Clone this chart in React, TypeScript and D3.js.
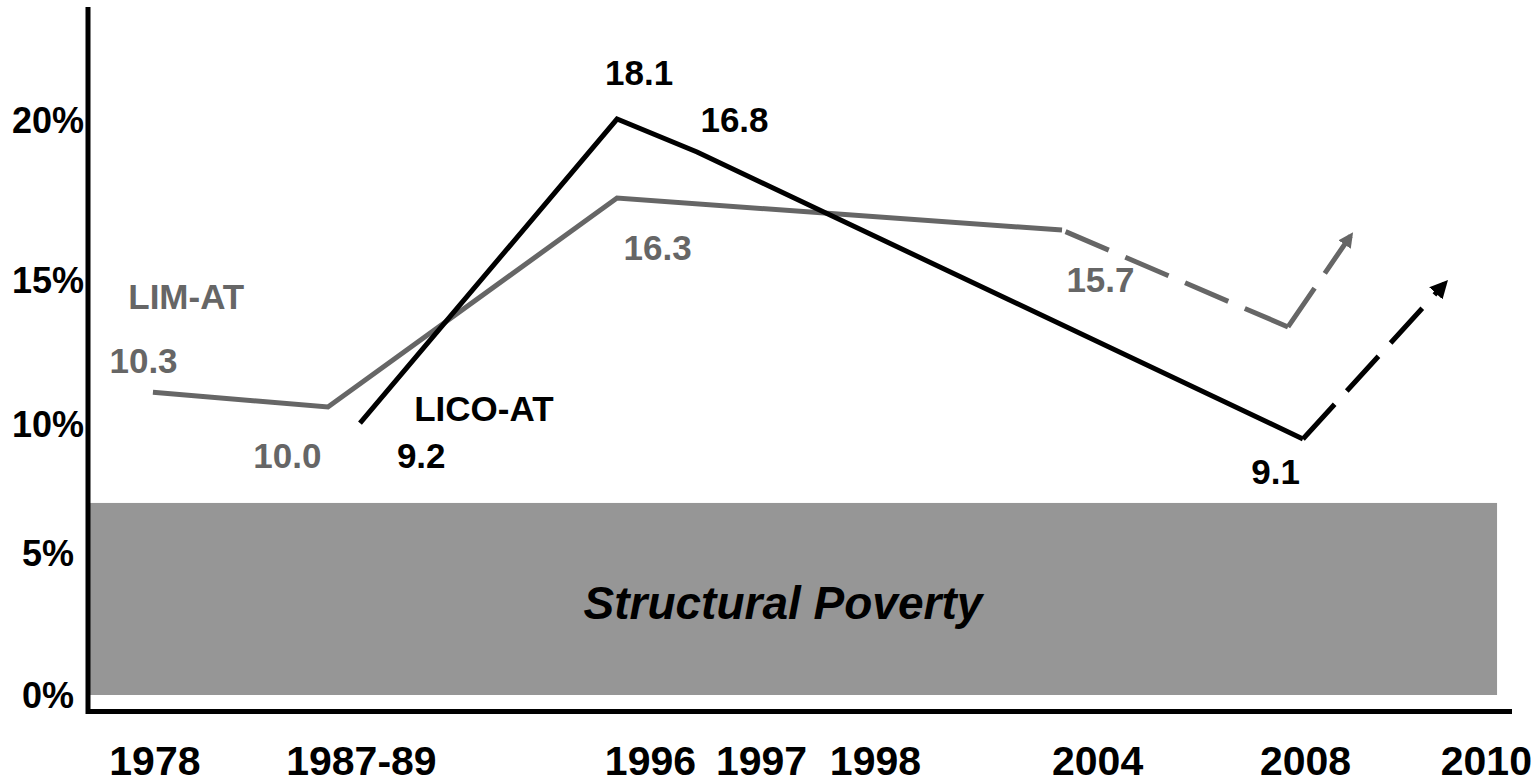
import React, { useEffect, useRef } from 'react';
import { select, scaleLinear, line } from 'd3';

// y axis (values in %)
const yTicks = [0, 5, 10, 15, 20];
const yTickLabels = ['0%', '5%', '10%', '15%', '20%'];

// x axis: positions along the time axis, 0..100
const categories = ['1978', '1987-89', '1996', '1997', '1998', '2004', '2008', '2010'];
const categoryPos = [4.7, 19.2, 39.5, 47.3, 55.3, 70.9, 85.5, 98.2];

// LIM-AT (grey)
const limPos = [4.56, 16.85, 37.15, 68.4];
const limValues = [11.1, 10.59, 17.56, 16.56];
const limTrendPos = [68.4, 84.27, 88.66];
const limTrendValues = [16.56, 13.37, 16.38];
const limLabels = ['LIM-AT', '10.3', '10.0', '16.3', '15.7'];
const limLabelPos = [6.9, 3.9, 14.0, 40.0, 71.1];
const limLabelValues = [13.99, 11.77, 8.29, 15.63, 14.58];

// LICO-AT (black)
const licoPos = [19.1, 37.15, 42.77, 85.32];
const licoValues = [10.03, 20.03, 19.0, 9.42];
const licoTrendPos = [85.32, 95.25];
const licoTrendValues = [9.42, 14.86];
const licoLabels = ['LICO-AT', '9.2', '18.1', '16.8', '9.1'];
const licoLabelPos = [27.8, 23.4, 38.7, 45.4, 83.4];
const licoLabelValues = [10.1, 8.29, 21.09, 19.63, 7.67];

// structural poverty band
const bandRange = [0, 6.94];
const bandEnd = 98.95;
const bandText = 'Structural Poverty';
const bandTextPos = 48.8;

const W = 1539;
const H = 783;
const plot = { left: 88, right: 1512, top: 7, axisY: 711.5 };
const tickY = [695, 553, 424, 280, 120];
const GREY = '#666666';
const FONT = '"Liberation Sans", Arial, sans-serif';

export default function App() {
  const svgRef = useRef<SVGSVGElement>(null);

  useEffect(() => {
    if (!svgRef.current) return;
    const svg = select(svgRef.current);
    svg.selectAll('*').remove();

    const x = scaleLinear().domain([0, 100]).range([plot.left, plot.right]);
    const y = scaleLinear().domain(yTicks).range(tickY);

    const defs = svg.append('defs');
    const marker = (id: string, color: string, size: number) => {
      defs
        .append('marker')
        .attr('id', id)
        .attr('viewBox', '0 0 10 10')
        .attr('refX', 7)
        .attr('refY', 5)
        .attr('markerUnits', 'userSpaceOnUse')
        .attr('markerWidth', size)
        .attr('markerHeight', size)
        .attr('orient', 'auto')
        .append('path')
        .attr('d', 'M0,0 L10,5 L0,10 Z')
        .attr('fill', color);
    };
    marker('arrow-black', '#000', 18);
    marker('arrow-grey', GREY, 15);

    // band
    svg
      .append('rect')
      .attr('x', x(0))
      .attr('width', x(bandEnd) - x(0))
      .attr('y', y(bandRange[1]))
      .attr('height', y(bandRange[0]) - y(bandRange[1]))
      .attr('fill', '#969696');

    svg
      .append('text')
      .attr('x', x(bandTextPos))
      .attr('y', y((bandRange[0] + bandRange[1]) / 2) + 23)
      .attr('text-anchor', 'middle')
      .attr('font-family', FONT)
      .attr('font-weight', 'bold')
      .attr('font-style', 'italic')
      .attr('font-size', 46)
      .attr('fill', '#000')
      .text(bandText);

    const pathGen = line<[number, number]>()
      .x(d => x(d[0]))
      .y(d => y(d[1]));
    const zip = (p: number[], v: number[]) => p.map((d, i) => [d, v[i]] as [number, number]);

    const limTrend = zip(limTrendPos, limTrendValues);
    const series = [
      { pts: zip(limPos, limValues), color: GREY, dash: null, marker: null },
      // dashes laid out from the bend so both legs start with a dash there
      { pts: limTrend.slice(0, 2).reverse(), color: GREY, dash: '47 18', marker: null },
      { pts: limTrend.slice(1), color: GREY, dash: '47 18', marker: 'arrow-grey' },
      { pts: zip(licoPos, licoValues), color: '#000', dash: null, marker: null },
      { pts: zip(licoTrendPos, licoTrendValues), color: '#000', dash: '47 18', marker: 'arrow-black' },
    ];

    svg
      .selectAll('.series')
      .data(series)
      .join('path')
      .attr('class', 'series')
      .attr('d', d => pathGen(d.pts))
      .attr('fill', 'none')
      .attr('stroke', d => d.color)
      .attr('stroke-width', 5)
      .attr('stroke-linejoin', 'miter')
      .attr('stroke-dasharray', d => d.dash)
      .attr('marker-end', d => (d.marker ? `url(#${d.marker})` : null));

    // axes
    svg
      .append('path')
      .attr('d', `M${plot.left},${plot.top} V${plot.axisY} H${plot.right}`)
      .attr('fill', 'none')
      .attr('stroke', '#000')
      .attr('stroke-width', 5);

    svg
      .selectAll('.ytick')
      .data(yTicks)
      .join('text')
      .attr('class', 'ytick')
      .attr('x', 48)
      .attr('y', d => y(d) + 13)
      .attr('text-anchor', 'middle')
      .attr('font-family', FONT)
      .attr('font-weight', 'bold')
      .attr('font-size', 36)
      .attr('fill', '#000')
      .text((d, i) => yTickLabels[i]);

    svg
      .selectAll('.xtick')
      .data(categories)
      .join('text')
      .attr('class', 'xtick')
      .attr('x', (d, i) => x(categoryPos[i]))
      .attr('y', plot.axisY + 63)
      .attr('text-anchor', 'middle')
      .attr('font-family', FONT)
      .attr('font-weight', 'bold')
      .attr('font-size', 41)
      .attr('fill', '#000')
      .text(d => d);

    const labels = [
      ...limLabels.map((t, i) => ({ t, p: limLabelPos[i], v: limLabelValues[i], c: GREY })),
      ...licoLabels.map((t, i) => ({ t, p: licoLabelPos[i], v: licoLabelValues[i], c: '#000' })),
    ];
    svg
      .selectAll('.vlabel')
      .data(labels)
      .join('text')
      .attr('class', 'vlabel')
      .attr('x', d => x(d.p))
      .attr('y', d => y(d.v))
      .attr('text-anchor', 'middle')
      .attr('font-family', FONT)
      .attr('font-weight', 'bold')
      .attr('font-size', 35)
      .attr('fill', d => d.c)
      .text(d => d.t);
  }, []);

  return (
    <svg
      ref={svgRef}
      width={W}
      height={H}
      style={{ position: 'absolute', left: 0, top: 0, display: 'block', background: '#fff' }}
    />
  );
}
